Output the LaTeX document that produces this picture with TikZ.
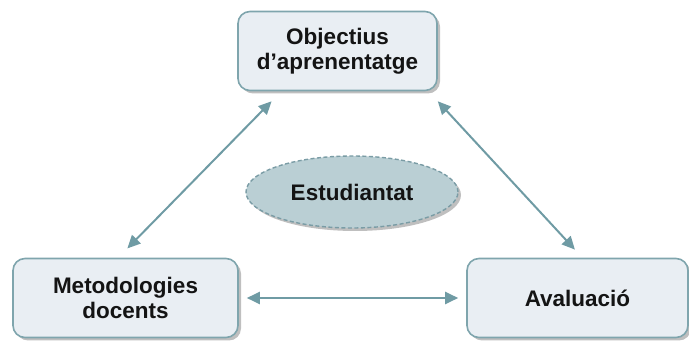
\documentclass[tikz,border=0pt]{standalone}
\usepackage{fontspec}
\setmainfont{Liberation Sans}
\usetikzlibrary{shapes.geometric,arrows.meta,shadows,calc}
\definecolor{boxfill}{HTML}{E9EEF3}
\definecolor{boxline}{HTML}{7FA5AD}
\definecolor{arrowc}{HTML}{6F9BA4}
\definecolor{ellfill}{HTML}{BACFD4}
\definecolor{ellline}{HTML}{7A9CA5}
\definecolor{shadowc}{HTML}{BFBFBF}
\definecolor{txt}{HTML}{141414}
\tikzset{
  boxnode/.style={draw=boxline, line width=1.6pt, fill=boxfill, rounded corners=12pt,
    minimum height=79pt, align=center, text=txt,
    font=\fontsize{22.5}{25.5}\selectfont\bfseries,
    drop shadow={shadow xshift=3pt, shadow yshift=-3pt, fill=shadowc, opacity=1}},
  ellnode/.style={ellipse, draw=ellline, line width=1.4pt, dash pattern=on 4pt off 2.5pt,
    fill=ellfill, minimum width=212pt, minimum height=72pt, text=txt,
    font=\fontsize{22.5}{25.5}\selectfont\bfseries,
    drop shadow={shadow xshift=3pt, shadow yshift=-3pt, fill=shadowc, opacity=1}},
  dblarrow/.style={draw=arrowc, line width=2pt,
    {Triangle[length=13pt,width=12pt]}-{Triangle[length=13pt,width=12pt]}}
}
\begin{document}
\begin{tikzpicture}[x=1pt,y=1pt]
\useasboundingbox (0,0) rectangle (689,-344);
\node[boxnode, minimum width=199pt] (top) at (337.5,-51) {Objectius\\d’aprenentatge};
\node[boxnode, minimum width=225pt] (left) at (125.5,-298) {Metodologies\\docents};
\node[boxnode, minimum width=221pt] (right) at (577.5,-298) {Avaluació};
\node[ellnode] (stud) at (352,-192) {Estudiantat};
\draw[dblarrow, shorten <=14pt, shorten >=13pt]
  ($(top.south west)!0.22!(top.south east)$) -- ($(left.north west)!0.468!(left.north east)$);
\draw[dblarrow, shorten <=13.6pt, shorten >=11pt]
  ($(top.south west)!0.954!(top.south east)$) -- ($(right.north west)!0.522!(right.north east)$);
\draw[dblarrow, shorten <=8pt, shorten >=8pt] (left.east) -- (right.west);
\end{tikzpicture}
\end{document}
